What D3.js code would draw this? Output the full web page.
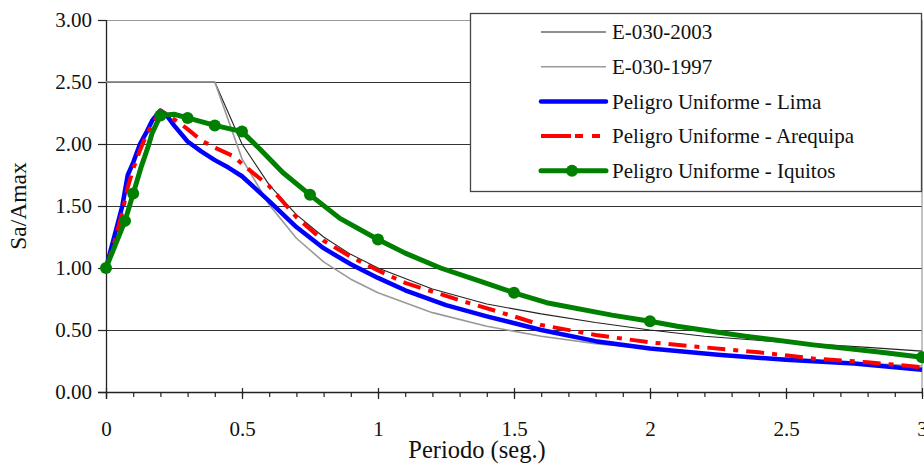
<!DOCTYPE html>
<html>
<head>
<meta charset="utf-8">
<script src="https://cdn.jsdelivr.net/npm/d3@7/dist/d3.min.js"></script>
<style>
  body { margin: 0; background: #fff; }
  svg text { font-family: "Liberation Serif", "Times New Roman", serif; fill: #111; }
</style>
</head>
<body>
<svg id="chart" width="924" height="465"></svg>
<script>
// periods (s) and Sa/Amax values
var e2003T = [0, 0.4, 0.5, 0.6, 0.7, 0.8, 0.9, 1.0, 1.2, 1.4, 1.6, 1.8, 2.0, 2.2, 2.5, 2.8, 3.0];
var e2003V = [2.5, 2.5, 2.0, 1.67, 1.43, 1.25, 1.11, 1.0, 0.83, 0.71, 0.63, 0.56, 0.50, 0.45, 0.40, 0.36, 0.33];

var e1997T = [0, 0.4, 0.5, 0.6, 0.7, 0.8, 0.9, 1.0, 1.2, 1.4, 1.6, 1.8, 2.0, 2.2, 2.5, 2.8, 3.0];
var e1997V = [2.5, 2.5, 1.88, 1.51, 1.24, 1.05, 0.91, 0.80, 0.64, 0.53, 0.45, 0.39, 0.35, 0.31, 0.27, 0.23, 0.21];

var limaT = [0, 0.03, 0.06, 0.08, 0.1, 0.125, 0.15, 0.17, 0.2, 0.22, 0.25, 0.3, 0.35, 0.4, 0.45, 0.5, 0.6, 0.7, 0.8, 0.9, 1.0, 1.1, 1.25, 1.4, 1.6, 1.8, 2.0, 2.25, 2.5, 2.75, 3.0];
var limaV = [1.0, 1.25, 1.5, 1.75, 1.85, 2.0, 2.1, 2.19, 2.27, 2.24, 2.15, 2.02, 1.94, 1.87, 1.81, 1.74, 1.54, 1.33, 1.16, 1.03, 0.92, 0.82, 0.70, 0.61, 0.50, 0.41, 0.35, 0.30, 0.26, 0.23, 0.18];

var areqT = [0, 0.03, 0.06, 0.08, 0.1, 0.125, 0.15, 0.2, 0.25, 0.3, 0.35, 0.4, 0.47, 0.5, 0.6, 0.7, 0.8, 0.9, 1.0, 1.1, 1.3, 1.5, 1.6, 1.8, 2.0, 2.2, 2.4, 2.6, 2.8, 3.0];
var areqV = [1.0, 1.2, 1.45, 1.65, 1.8, 1.95, 2.08, 2.27, 2.2, 2.12, 2.03, 1.97, 1.9, 1.84, 1.66, 1.41, 1.22, 1.09, 0.98, 0.88, 0.74, 0.61, 0.54, 0.46, 0.40, 0.36, 0.32, 0.27, 0.24, 0.20];

var iquiT = [0, 0.07, 0.1, 0.13, 0.155, 0.17, 0.2, 0.25, 0.3, 0.4, 0.5, 0.57, 0.65, 0.75, 0.86, 1.0, 1.1, 1.23, 1.38, 1.5, 1.62, 1.86, 2.0, 2.1, 2.35, 2.6, 2.85, 3.0];
var iquiV = [1.0, 1.38, 1.6, 1.82, 1.98, 2.09, 2.23, 2.24, 2.21, 2.15, 2.10, 1.95, 1.77, 1.59, 1.40, 1.23, 1.12, 1.0, 0.89, 0.80, 0.72, 0.62, 0.57, 0.53, 0.45, 0.38, 0.32, 0.28];
var iquiMarks = [0, 0.07, 0.1, 0.2, 0.3, 0.4, 0.5, 0.75, 1.0, 1.5, 2.0, 3.0];

var xTicks = [0, 0.5, 1, 1.5, 2, 2.5, 3];
var yTicks = [0, 0.5, 1, 1.5, 2, 2.5, 3];
var legendNames = ['E-030-2003', 'E-030-1997', 'Peligro Uniforme - Lima', 'Peligro Uniforme - Arequipa', 'Peligro Uniforme - Iquitos'];

var svg = d3.select('#chart');
var pLeft = 106, pRight = 922, pTop = 20, pBottom = 392;

var x = d3.scaleLinear().domain([0, 3]).range([pLeft, pRight]);
var y = d3.scaleLinear().domain([0, 3]).range([pBottom, pTop]);

// gridlines
svg.append('g').selectAll('line')
  .data(yTicks.filter(d => d > 0))
  .enter().append('line')
  .attr('x1', pLeft).attr('x2', pRight)
  .attr('y1', d => Math.round(y(d)) + 0.5).attr('y2', d => Math.round(y(d)) + 0.5)
  .attr('stroke', d => d === 3 ? '#999' : '#333')
  .attr('stroke-width', 1.2);

// right border of plot area
svg.append('line')
  .attr('x1', pRight).attr('x2', pRight).attr('y1', pTop).attr('y2', pBottom)
  .attr('stroke', '#999').attr('stroke-width', 1.2);

// y axis
var yAxis = d3.axisLeft(y).tickValues(yTicks).tickFormat(d3.format('.2f')).tickSize(8).tickPadding(6);
var gy = svg.append('g').attr('transform', 'translate(' + pLeft + ',0)').call(yAxis);
gy.selectAll('text').style('font-size', '21px');

// x axis, minor ticks every 0.1
var gxm = svg.append('g').attr('transform', 'translate(0,' + pBottom + ')')
  .call(d3.axisBottom(x).ticks(30).tickSize(5).tickFormat(''));
var gx = svg.append('g').attr('transform', 'translate(0,' + pBottom + ')')
  .call(d3.axisBottom(x).tickValues(xTicks).tickFormat(d3.format('')).tickSize(7).tickPadding(22));
gx.selectAll('text').style('font-size', '21px');
gx.selectAll('.tick line').attr('y1', -4);

[gy, gx, gxm].forEach(g => {
  g.select('.domain').attr('stroke', '#222').attr('stroke-width', 1.3);
  g.selectAll('.tick line').attr('stroke', '#222').attr('stroke-width', 1.2);
});
gy.select('.domain').attr('d', 'M0.5,' + pTop + 'V' + (pBottom + 7));
gxm.select('.domain').attr('d', 'M' + (pLeft - 8) + ',0.5H' + pRight);
gx.select('.domain').remove();

// axis titles
svg.append('text')
  .attr('transform', 'translate(26,206) rotate(-90)')
  .attr('text-anchor', 'middle')
  .style('font-size', '23.5px')
  .text('Sa/Amax');
svg.append('text')
  .attr('x', 477).attr('y', 458)
  .attr('text-anchor', 'middle')
  .style('font-size', '24.5px')
  .text('Periodo (seg.)');

var line = d3.line().x(d => x(d[0])).y(d => y(d[1]));
var zip = (t, v) => t.map((d, i) => [d, v[i]]);

var series = [
  { pts: zip(e2003T, e2003V), color: '#222', width: 1.1, dash: null },
  { pts: zip(e1997T, e1997V), color: '#999', width: 1.6, dash: null },
  { pts: zip(limaT, limaV), color: '#0000ff', width: 4.5, dash: null },
  { pts: zip(areqT, areqV), color: '#ff0000', width: 4, dash: '18,8,5,8' },
  { pts: zip(iquiT, iquiV), color: '#008000', width: 5, dash: null }
];

svg.append('g').selectAll('path')
  .data(series)
  .enter().append('path')
  .attr('d', d => line(d.pts))
  .attr('fill', 'none')
  .attr('stroke', d => d.color)
  .attr('stroke-width', d => d.width)
  .attr('stroke-dasharray', d => d.dash)
  .attr('stroke-linejoin', 'round');

svg.append('g').selectAll('circle')
  .data(zip(iquiT, iquiV).filter(d => iquiMarks.indexOf(d[0]) >= 0))
  .enter().append('circle')
  .attr('cx', d => x(d[0])).attr('cy', d => y(d[1]))
  .attr('r', 6)
  .attr('fill', '#008000');

// legend
var lg = svg.append('g');
lg.append('rect')
  .attr('x', 470.5).attr('y', 13.5).attr('width', 451).attr('height', 178)
  .attr('fill', '#fff').attr('stroke', '#444').attr('stroke-width', 1.3);

var rows = lg.selectAll('g.row')
  .data(series.map((s, i) => ({ s: s, name: legendNames[i] })))
  .enter().append('g')
  .attr('class', 'row')
  .attr('transform', (d, i) => 'translate(0,' + (32 + i * 34.7) + ')');

rows.append('line')
  .attr('x1', 541).attr('x2', 606).attr('y1', 0).attr('y2', 0)
  .attr('stroke', d => d.s.color)
  .attr('stroke-width', d => d.s.width)
  .attr('stroke-dasharray', d => d.s.dash ? '30,4,8,9,8' : null)
  .attr('stroke-linecap', d => d.s.width > 3 && !d.s.dash ? 'round' : 'butt');

rows.filter((d, i) => i === 4).append('circle')
  .attr('cx', 572).attr('cy', 0).attr('r', 6).attr('fill', '#008000');

rows.append('text')
  .attr('x', 612).attr('y', 0).attr('dy', '0.35em')
  .style('font-size', '21px')
  .text(d => d.name);
</script>
</body>
</html>
